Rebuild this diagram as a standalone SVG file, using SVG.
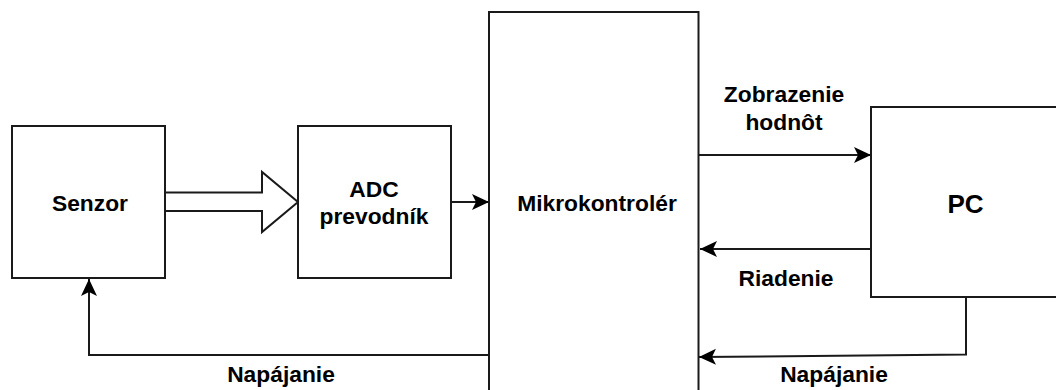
<svg xmlns="http://www.w3.org/2000/svg" width="1056" height="390" viewBox="0 0 1056 390">
<style>
.b{fill:#fff;stroke:#1a1a1a;stroke-width:2}
.c{fill:none;stroke:#1a1a1a;stroke-width:2}
text{font-family:"Liberation Sans",Arial,sans-serif;font-weight:bold;font-size:22.8px;text-anchor:middle;fill:#000}
</style>
<defs><marker id="a" markerUnits="userSpaceOnUse" markerWidth="18" markerHeight="18" refX="17" refY="9" orient="auto"><path d="M0 1L17 9L0 17L4 9Z" fill="#000"/></marker></defs>
<rect width="1056" height="390" fill="#fff"/>
<g id="connectors">
<path class="c" d="M451 202H489" marker-end="url(#a)"/>
<path class="c" d="M698 155H871" marker-end="url(#a)"/>
<path class="c" d="M871 249H700" marker-end="url(#a)"/>
<path class="c" d="M966 297V354.500L699 357" marker-end="url(#a)"/>
<path class="c" d="M489 355H89V279" marker-end="url(#a)"/>
<path class="b" d="M165 192.500H262V172L298 202L262 232V211H165Z"/>
</g>
<g id="senzor"><rect class="b" x="12" y="126" width="153" height="152"/><text x="90" y="211">Senzor</text></g>
<g id="adc"><rect class="b" x="298" y="126" width="153" height="152"/><text x="374" y="197">ADC</text><text x="374" y="224">prevodník</text></g>
<g id="mcu"><rect class="b" x="489" y="12" width="209.500" height="385"/><text x="597" y="211">Mikrokontrolér</text></g>
<g id="pc"><rect class="b" x="871" y="107" width="190" height="190"/><text x="965.500" y="213" style="font-size:26px">PC</text></g>
<g id="labels">
<text x="784" y="102">Zobrazenie</text><text x="784" y="130">hodnôt</text>
<text x="786" y="286">Riadenie</text>
<text x="281" y="382">Napájanie</text>
<text x="834" y="382">Napájanie</text>
</g>
</svg>
